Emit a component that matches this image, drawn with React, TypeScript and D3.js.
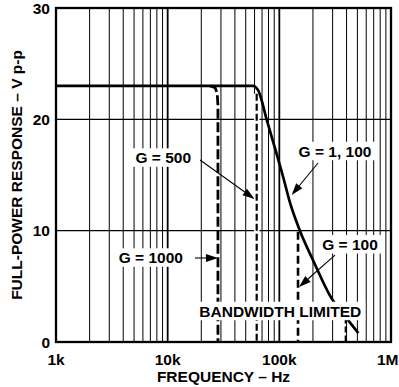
import { useEffect, useRef } from "react";
import * as d3 from "d3";

// frequency (Hz), volts p-p
const mainCurve: [number, number][] = [
  [1000, 23], [58100, 23], [62000, 22.85], [64700, 22.6], [77400, 19.9],
  [110000, 14.55], [122700, 12.75], [152800, 10.0], [200000, 7.37],
  [287500, 4.07], [403000, 2.1], [510000, 0.8],
];
const g1000Curve: [number, number][] = [
  [23900, 23], [26600, 22.85], [27800, 22.3], [28200, 21.2], [28200, 0],
];
const g500Curve: [number, number][] = [[62700, 22.3], [62700, 0]];
const g100Curve: [number, number][] = [[147000, 9.9], [147000, 0]];
const bwCurve: [number, number][] = [[392600, 2.2], [392600, 0]];

const xTicks = [1e3, 1e4, 1e5, 1e6];
const xTickLabels = ["1k", "10k", "100k", "1M"];
const yTicks = [0, 10, 20, 30];

const labelTexts = ["G = 500", "G = 1000", "G = 1, 100", "G = 100", "BANDWIDTH LIMITED"];
const labelAt: [number, number][] = [
  [9130, 16.05], [7060, 7.07], [315000, 16.64], [429500, 8.26], [102000, 2.27],
];
const arrowFrom: [number, number][] = [
  [19500, 16.35], [17570, 7.545], [222000, 16.08], [315000, 7.81],
];
const arrowTo: [number, number][] = [
  [59900, 12.84], [28200, 7.545], [129000, 13.2], [150000, 4.94],
];

const W = 399, H = 387;
const margin = { left: 56, right: 8, top: 8, bottom: 45 };
const FONT = "'Liberation Sans', Arial, Helvetica, sans-serif";

export default function App() {
  const svgRef = useRef<SVGSVGElement>(null);

  useEffect(() => {
    const svg = d3.select(svgRef.current);
    svg.selectAll("*").remove();

    const x = d3.scaleLog().domain([1e3, 1e6]).range([margin.left, W - margin.right]);
    const y = d3.scaleLinear().domain([0, 30]).range([H - margin.bottom, margin.top]);

    const grid = svg.append("g");
    const minor: number[] = [];
    [1e3, 1e4, 1e5].forEach(d => { for (let k = 2; k <= 9; k++) minor.push(d * k); });
    grid.selectAll("line.minor").data(minor).join("line")
      .attr("x1", d => x(d)).attr("x2", d => x(d))
      .attr("y1", y(0)).attr("y2", y(30))
      .attr("stroke", "#000").attr("stroke-width", 1);
    grid.selectAll("line.major").data([1e4, 1e5]).join("line")
      .attr("x1", d => x(d)).attr("x2", d => x(d))
      .attr("y1", y(0)).attr("y2", y(30))
      .attr("stroke", "#000").attr("stroke-width", 1.8);
    grid.selectAll("line.h").data([10, 20]).join("line")
      .attr("x1", x(1e3)).attr("x2", x(1e6))
      .attr("y1", d => y(d)).attr("y2", d => y(d))
      .attr("stroke", "#000").attr("stroke-width", 1.3);

    const line = d3.line<[number, number]>().x(d => x(d[0])).y(d => y(d[1]));
    const smooth = d3.line<[number, number]>().x(d => x(d[0])).y(d => y(d[1])).curve(d3.curveMonotoneX);

    svg.append("path").attr("d", line(g1000Curve)).attr("fill", "none")
      .attr("stroke", "#000").attr("stroke-width", 2.8).attr("stroke-dasharray", "10,3.5");
    svg.append("path").attr("d", line(g500Curve)).attr("fill", "none")
      .attr("stroke", "#fff").attr("stroke-width", 5.5);
    svg.append("path").attr("d", line(g500Curve)).attr("fill", "none")
      .attr("stroke", "#000").attr("stroke-width", 2.2).attr("stroke-dasharray", "7,3");
    svg.append("path").attr("d", line(g100Curve)).attr("fill", "none")
      .attr("stroke", "#000").attr("stroke-width", 2.6).attr("stroke-dasharray", "8,4");
    svg.append("path").attr("d", line(bwCurve)).attr("fill", "none")
      .attr("stroke", "#000").attr("stroke-width", 2).attr("stroke-dasharray", "6,3");
    svg.append("path").attr("d", smooth(mainCurve)).attr("fill", "none")
      .attr("stroke", "#000").attr("stroke-width", 2.7).attr("stroke-linejoin", "round");

    // labels with white boxes
    labelTexts.forEach((t, i) => {
      const g = svg.append("g");
      const rect = g.append("rect").attr("fill", "#fff");
      const txt = g.append("text").text(t)
        .attr("x", x(labelAt[i][0])).attr("y", y(labelAt[i][1]))
        .attr("text-anchor", "middle")
        .style("font-family", FONT).style("font-weight", "bold").style("font-size", "15.5px");
      const w = (txt.node() as SVGTextElement).getComputedTextLength();
      rect.attr("x", x(labelAt[i][0]) - w / 2 - 4).attr("width", w + 8)
        .attr("y", y(labelAt[i][1]) - 15).attr("height", 18.5);
    });

    // arrows
    arrowFrom.forEach((f, i) => {
      const x1 = x(f[0]), y1 = y(f[1]);
      const x2 = x(arrowTo[i][0]), y2 = y(arrowTo[i][1]);
      const ang = Math.atan2(y2 - y1, x2 - x1);
      const len = 12, hw = 4;
      const bx = x2 - len * Math.cos(ang), by = y2 - len * Math.sin(ang);
      svg.append("line").attr("x1", x1).attr("y1", y1).attr("x2", bx).attr("y2", by)
        .attr("stroke", "#000").attr("stroke-width", 1.1);
      const pts = [
        [x2, y2],
        [bx + hw * Math.sin(ang), by - hw * Math.cos(ang)],
        [bx - hw * Math.sin(ang), by + hw * Math.cos(ang)],
      ];
      svg.append("polygon").attr("points", pts.map(p => p.join(",")).join(" ")).attr("fill", "#000");
    });

    // frame
    svg.append("rect").attr("x", x(1e3)).attr("y", y(30))
      .attr("width", x(1e6) - x(1e3)).attr("height", y(0) - y(30))
      .attr("fill", "none").attr("stroke", "#000").attr("stroke-width", 2.3);

    const txtStyle = (s: d3.Selection<SVGTextElement, any, any, any>) =>
      s.style("font-family", FONT).style("font-weight", "bold").style("font-size", "15.5px").attr("fill", "#000");

    svg.selectAll("text.yt").data(yTicks).join("text")
      .attr("x", 50).attr("y", d => y(d) + 5.5).attr("text-anchor", "end")
      .text(d => String(d)).call(txtStyle as any);
    svg.selectAll("text.xt").data(xTicks).join("text")
      .attr("x", (d, i) => i === xTicks.length - 1 ? W - 0.5 : x(d))
      .attr("y", 364.5)
      .attr("text-anchor", (d, i) => i === xTicks.length - 1 ? "end" : "middle")
      .text((d, i) => xTickLabels[i]).call(txtStyle as any);

    svg.append("text").attr("x", (x(1e3) + x(1e6)) / 2).attr("y", 381.5)
      .attr("text-anchor", "middle").text("FREQUENCY – Hz").call(txtStyle as any);
    svg.append("text")
      .attr("transform", `translate(21.5, ${(y(0) + y(30)) / 2}) rotate(-90)`)
      .attr("text-anchor", "middle").text("FULL-POWER RESPONSE – V p-p").call(txtStyle as any);
  }, []);

  return (
    <div style={{ position: "absolute", left: 0, top: 0 }}>
      <svg ref={svgRef} width={W} height={H} style={{ display: "block", background: "#fff" }} />
    </div>
  );
}
